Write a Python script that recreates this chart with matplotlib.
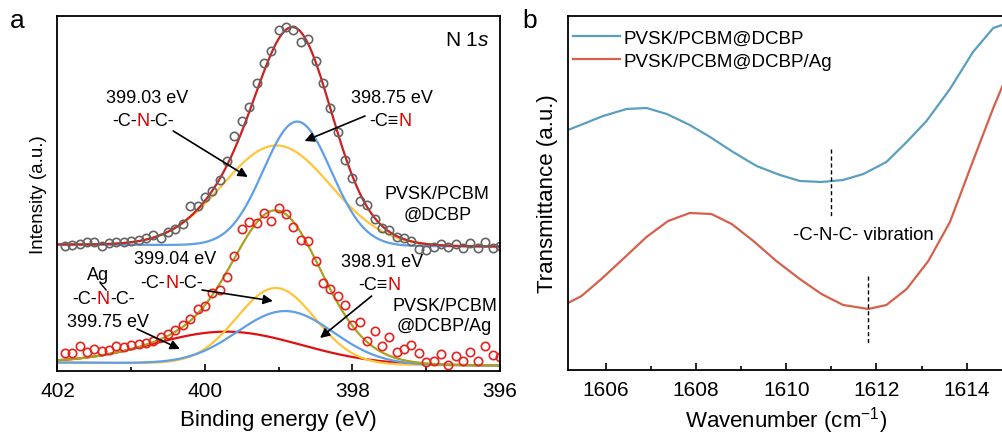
import numpy as np
import matplotlib
matplotlib.use('Agg')
import matplotlib.pyplot as plt

plt.rcParams['font.family'] = ['Liberation Sans', 'DejaVu Sans']
plt.rcParams['mathtext.fontset'] = 'custom'
plt.rcParams['mathtext.rm'] = 'Liberation Sans'
plt.rcParams['mathtext.it'] = 'Liberation Sans:italic'

# ---- panel a: XPS N 1s ----
energy = [401.9, 401.8, 401.7, 401.6, 401.5, 401.4, 401.3, 401.2, 401.1, 401.0,
          400.9, 400.8, 400.7, 400.6, 400.5, 400.4, 400.3, 400.2, 400.1, 400.0,
          399.9, 399.8, 399.7, 399.6, 399.5, 399.4, 399.3, 399.2, 399.1, 399.0,
          398.9, 398.8, 398.7, 398.6, 398.5, 398.4, 398.3, 398.2, 398.1, 398.0,
          397.9, 397.8, 397.7, 397.6, 397.5, 397.4, 397.3, 397.2, 397.1, 397.0,
          396.9, 396.8, 396.7, 396.6, 396.5, 396.4, 396.3, 396.2, 396.1, 396.0]
dcbp = [125, 126, 127, 129, 129, 125, 128, 129, 129, 130,
        131, 133, 136, 133, 139, 142, 147, 165, 165, 174,
        180, 191, 210, 235, 250, 264, 288, 308, 320, 341,
        344, 341, 329, 332, 310, 288, 263, 239, 211, 193,
        170, 166, 152, 143, 141, 134, 133, 130, 122, 121,
        124, 127, 124, 127, 123, 128, 123, 129, 123, 125]
dcbp_ag = [18, 18, 25, 19, 22, 20, 21, 25, 24, 26,
           27, 28, 30, 34, 37, 41, 46, 52, 62, 65,
           78, 81, 94, 115, 142, 149, 148, 158, 150, 163,
           157, 144, 131, 130, 110, 88, 82, 75, 66, 46,
           49, 30, 40, 25, 34, 19, 22, 26, 18, 9,
           10, 17, 6, 15, 10, 19, 10, 25, 16, 14]

# fitted peaks: centre (eV), height, FWHM (eV)
top_peaks = {'CNC': (399.03, 100, 1.72), 'CN': (398.75, 124, 1.08)}
top_bg = (126.5, 124.5)
bot_peaks = {'Ag': (399.70, 32, 2.35), 'CNC': (399.04, 76, 1.25), 'CN': (398.91, 53, 1.53)}
bot_bg = (8.5, 5.5)

# ---- panel b: FTIR ----
wn_blue = [1605.16, 1605.94, 1606.46, 1606.90, 1607.35, 1607.86, 1608.31, 1608.82, 1609.34,
           1609.86, 1610.30, 1610.78, 1611.26, 1611.71, 1612.22, 1612.67, 1613.11, 1613.63,
           1614.14, 1614.59, 1614.85]
tr_blue = [240, 254, 261, 262, 256, 245, 233, 218, 204, 195, 189, 188, 190, 196, 208, 228,
           249, 281, 318, 342, 346]
wn_red = [1605.16, 1605.46, 1605.90, 1606.38, 1606.90, 1607.38, 1607.86, 1608.34, 1608.79,
          1609.27, 1609.78, 1610.30, 1610.78, 1611.26, 1611.82, 1612.22, 1612.67, 1613.15,
          1613.63, 1614.14, 1614.59, 1614.85]
tr_red = [67, 74, 91, 111, 133, 149, 157, 156, 146, 129, 109, 91, 76, 65, 61, 65, 81, 109,
          148, 209, 262, 290]

fig = plt.figure(figsize=(10.03, 4.39), dpi=100)
ax1 = fig.add_axes([0.0573, 0.1526, 0.4412, 0.8087])
ax2 = fig.add_axes([0.5663, 0.1549, 0.4357, 0.8064])

YEL = '#ffc53a'
BLU = '#5e9fe8'
RED = '#d01f1f'
OLV = '#aba022'


def gauss(x, c, h, w):
    return h * np.exp(-4 * np.log(2) * ((x - c) / w) ** 2)


xf = np.linspace(402, 396, 400)
bg1 = np.interp(xf, [396, 402], [top_bg[1], top_bg[0]])
bg2 = np.interp(xf, [396, 402], [bot_bg[1], bot_bg[0]])

# top spectrum
y_cnc = gauss(xf, *top_peaks['CNC'])
y_cn = gauss(xf, *top_peaks['CN'])
ax1.plot(xf, bg1 + y_cnc, color=YEL, lw=1.6)
ax1.plot(xf, bg1 + y_cn, color=BLU, lw=1.6)
ax1.plot(xf, bg1 + y_cnc + y_cn, color=RED, lw=1.6)
ax1.plot(energy, dcbp, 'o', ms=6, mfc='none', mec='#646464', mew=1.2)

# bottom spectrum
b_ag = gauss(xf, *bot_peaks['Ag'])
b_cnc = gauss(xf, *bot_peaks['CNC'])
b_cn = gauss(xf, *bot_peaks['CN'])
ax1.plot(xf, bg2 + b_ag, color='#e01010', lw=1.6)
ax1.plot(xf, bg2 + b_cnc, color=YEL, lw=1.6)
ax1.plot(xf, bg2 + b_cn, color=BLU, lw=1.6)
ax1.plot(xf, bg2 + b_ag + b_cnc + b_cn, color=OLV, lw=1.6)
ax1.plot(energy, dcbp_ag, 'o', ms=6, mfc='none', mec='#e8211c', mew=1.2)

ax1.set_xlim(402, 396)
ax1.set_ylim(0, 355)
ax1.set_xticks([402, 400, 398, 396])
ax1.set_xticks([401, 399, 397], minor=True)
ax1.set_yticks([])
ax1.set_xlabel('Binding energy (eV)', fontsize=16, labelpad=7)
ax1.set_ylabel('Intensity (a.u.)', fontsize=13.5, labelpad=7.5)

renderer = fig.canvas.get_renderer()


def pieces_text(ax, x, y, pieces, fs=13):
    widths = []
    for s, c in pieces:
        t = ax.text(0, 0, s, fontsize=fs)
        widths.append(t.get_window_extent(renderer).width)
        t.remove()
    off = -sum(widths) / 2
    for (s, c), w in zip(pieces, widths):
        ax.annotate(s, (x, y), xytext=(off * 72 / fig.dpi, 0), textcoords='offset points',
                    ha='left', va='center', fontsize=fs, color=c)
        off += w


NRED = '#e00000'
fs = 13
ax1.text(400.79, 273, '399.03 eV', ha='center', va='center', fontsize=fs)
pieces_text(ax1, 400.84, 250, [('-C-', 'k'), ('N', NRED), ('-C-', 'k')], fs)
ax1.text(397.47, 273, '398.75 eV', ha='center', va='center', fontsize=fs)
pieces_text(ax1, 397.49, 250, [('-C\u2261', 'k'), ('N', NRED)], fs)
ax1.text(396.85, 177, 'PVSK/PCBM', ha='center', va='center', fontsize=fs)
ax1.text(396.85, 157, '@DCBP', ha='center', va='center', fontsize=fs)

ax1.text(400.41, 113, '399.04 eV', ha='center', va='center', fontsize=fs)
pieces_text(ax1, 400.45, 89, [('-C-', 'k'), ('N', NRED), ('-C-', 'k')], fs)
ax1.text(397.60, 110, '398.91 eV', ha='center', va='center', fontsize=fs)
pieces_text(ax1, 397.63, 87, [('-C\u2261', 'k'), ('N', NRED)], fs)
ax1.text(396.75, 66, 'PVSK/PCBM', ha='center', va='center', fontsize=fs)
ax1.text(396.75, 46, '@DCBP/Ag', ha='center', va='center', fontsize=fs)

ax1.text(401.45, 97, 'Ag', ha='center', va='center', fontsize=fs)
ax1.plot([401.42, 401.34], [88, 81], color='k', lw=1)
pieces_text(ax1, 401.38, 73, [('-C-', 'k'), ('N', NRED), ('-C-', 'k')], fs)
ax1.text(401.32, 50, '399.75 eV', ha='center', va='center', fontsize=fs)

ax1.text(0.977, 0.934, 'N 1$\\it{s}$', transform=ax1.transAxes, ha='right', va='center',
         fontsize=15)

arrow = dict(arrowstyle='-|>', color='k', lw=1.2, mutation_scale=14, shrinkA=0, shrinkB=0)
for start, end in [((400.43, 240), (399.42, 194)), ((397.83, 255), (398.65, 230)),
                   ((400.04, 81), (399.08, 70)), ((397.74, 75), (398.44, 33)),
                   ((400.92, 42), (400.34, 22))]:
    ax1.annotate('', xy=end, xytext=start, arrowprops=arrow)

# ---- panel b ----
ax2.plot(wn_blue, tr_blue, color='#5b9fc0', lw=1.6, label='PVSK/PCBM@DCBP')
ax2.plot(wn_red, tr_red, color='#d5604b', lw=1.6, label='PVSK/PCBM@DCBP/Ag')
ax2.plot([1611.0, 1611.0], [221, 153], color='k', lw=1, ls=(0, (3, 2)))
ax2.plot([1611.81, 1611.81], [94, 25], color='k', lw=1, ls=(0, (3, 2)))
ax2.text(1611.70, 135, '-C-N-C- vibration', ha='center', va='center', fontsize=13.4)
ax2.set_xlim(1605.16, 1614.85)
ax2.set_ylim(0, 354)
ax2.set_xticks([1606, 1608, 1610, 1612, 1614])
ax2.set_xticks([1607, 1609, 1611, 1613], minor=True)
ax2.set_yticks([])
ax2.set_xlabel('Wavenumber (cm$^{-1}$)', fontsize=16, labelpad=4)
ax2.set_ylabel('Transmittance (a.u.)', fontsize=16, labelpad=7)
ax2.legend(loc='upper left', bbox_to_anchor=(-0.028, 1.009), frameon=False, fontsize=13.5,
           handlelength=2.55, handletextpad=0.15, labelspacing=0.3)

for ax in (ax1, ax2):
    for sp in ax.spines.values():
        sp.set_linewidth(1.3)
    ax.tick_params(axis='x', which='major', direction='in', length=5, width=1.2,
                   labelsize=15, pad=7)
    ax.tick_params(axis='x', which='minor', direction='in', length=3, width=1.2)

fig.text(0.0175, 0.936, 'a', fontsize=19, ha='center', va='baseline')
fig.text(0.528, 0.936, 'b', fontsize=19, ha='center', va='baseline')

fig.savefig('out.png', dpi=100)
